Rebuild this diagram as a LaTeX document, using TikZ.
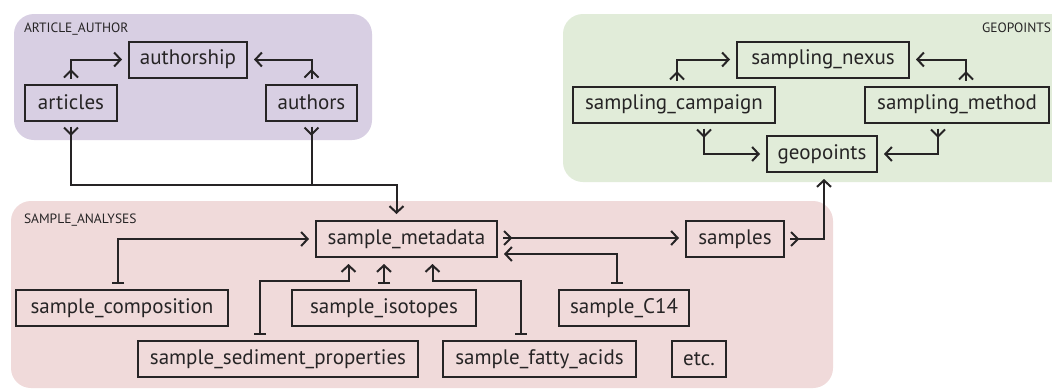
\documentclass[tikz,border=0pt]{standalone}
\usepackage{fontspec}
\setmainfont{PT Sans}
\usetikzlibrary{arrows.meta}
\definecolor{authorbg}{RGB}{216,207,227}
\definecolor{geobg}{RGB}{225,236,217}
\definecolor{samplebg}{RGB}{240,218,218}
\definecolor{inkgray}{RGB}{38,36,37}
\begin{document}
\begin{tikzpicture}[x=1pt,y=-1pt,line width=2pt,draw=inkgray,
		table_node/.style={draw=inkgray,line width=2pt,minimum height=36pt,inner sep=0pt,font=\fontsize{21}{24}\selectfont,text=inkgray},
		group_label/.style={font=\fontsize{13.5}{15}\selectfont,text=inkgray,inner sep=0pt},
		one_to/.style={arrows={Bar[width=12pt]-Straight Barb[length=6.5pt,width=14pt]},shorten <=5pt,shorten >=6pt},
		many_to/.style={preaction={draw,arrows=-,shorten <=5pt,shorten >=8pt},arrows={Straight Barb[reversed,length=7pt,width=14pt]-Straight Barb[length=6.5pt,width=14pt]},shorten <=5pt,shorten >=6pt},
		many_end/.style={preaction={draw,arrows=-,shorten <=5pt},arrows={Straight Barb[reversed,length=7pt,width=14pt]-},shorten <=5pt}]
		
		\clip (0,0) rectangle (1052,389);
		\fill[white] (0,0) rectangle (1052,389);
		
		% groups
		\fill[authorbg,rounded corners=20pt] (14,14) rectangle (372,140);
		\fill[geobg,rounded corners=20pt] (563,14) rectangle (1080,182);
		\fill[samplebg,rounded corners=20pt] (11,201) rectangle (833,388);
		\node[group_label,anchor=north west] (article_author) at (23,22) {ARTICLE\_AUTHOR};
		\node[group_label,anchor=north east] (geo_label) at (1052,22) {GEOPOINTS};
		\node[group_label,anchor=north west] (sample_analyses) at (23,213) {SAMPLE\_ANALYSES};
		
		% article_author
		\node[table_node,minimum width=118pt] (authorship) at (188,59.5) {authorship};
		\node[table_node,minimum width=92pt] (articles) at (71,102.5) {articles};
		\node[table_node,minimum width=91pt] (authors) at (311.5,102.5) {authors};
		
		% geopoints
		\node[table_node,minimum width=172pt] (sampling_nexus) at (823,59.5) {sampling\_nexus};
		\node[table_node,minimum width=202pt] (sampling_campaign) at (674,104.5) {sampling\_campaign};
		\node[table_node,minimum width=184pt] (sampling_method) at (957,104.5) {sampling\_method};
		\node[table_node,minimum width=110pt] (geopoints) at (822,154) {geopoints};
		
		% sample_analyses
		\node[table_node,minimum width=181pt] (sample_metadata) at (406.5,239) {sample\_metadata};
		\node[table_node,minimum width=98pt] (samples) at (735,239) {samples};
		\node[table_node,minimum width=212pt] (sample_composition) at (122,308) {sample\_composition};
		\node[table_node,minimum width=184pt] (sample_isotopes) at (384,308) {sample\_isotopes};
		\node[table_node,minimum width=130pt] (sample_C14) at (624,308) {sample\_C14};
		\node[table_node,minimum width=280pt] (sample_sediment) at (278,359) {sample\_sediment\_properties};
		\node[table_node,minimum width=193pt] (sample_fatty) at (539.5,359) {sample\_fatty\_acids};
		\node[table_node,minimum width=54pt] (etc) at (699,359) {etc.};
		
		\coordinate (join) at (311.5,185);
		
		\draw[many_to] (articles.north) |- (authorship.west);
		\draw[many_to] (authors.north) |- (authorship.east);
		\draw[many_to] ([xshift=3pt]sampling_campaign.north) |- (sampling_nexus.west);
		\draw[many_to] ([xshift=9pt]sampling_method.north) |- (sampling_nexus.east);
		\draw[many_to] ([xshift=30pt]sampling_campaign.south) |- (geopoints.west);
		\draw[many_to] ([xshift=-19pt]sampling_method.south) |- (geopoints.east);
		
		\draw[many_to] (articles.south) |- (join) -| ([xshift=-10pt]sample_metadata.north);
		\draw[many_end] (authors.south) -- (join);
		
		\draw[one_to] ([xshift=-4pt]sample_composition.north) |- (sample_metadata.west);
		\draw[one_to] ([xshift=-18pt]sample_sediment.north) -- ++(0,-59) -| ([xshift=-58pt]sample_metadata.south);
		\draw[one_to] (sample_isotopes.north) -- (sample_isotopes.north |- sample_metadata.south);
		\draw[one_to] ([xshift=-19pt]sample_fatty.north) -- ++(0,-59) -| ([xshift=26pt]sample_metadata.south);
		\draw[one_to] ([xshift=-7pt]sample_C14.north) |- ([yshift=-15pt]sample_metadata.east);
		\draw[many_to] ([yshift=1pt]sample_metadata.east) -- ([yshift=1pt]samples.west);
		\draw[many_to] (samples.east) -| ([xshift=2pt]geopoints.south);
		\end{tikzpicture}
\end{document}
